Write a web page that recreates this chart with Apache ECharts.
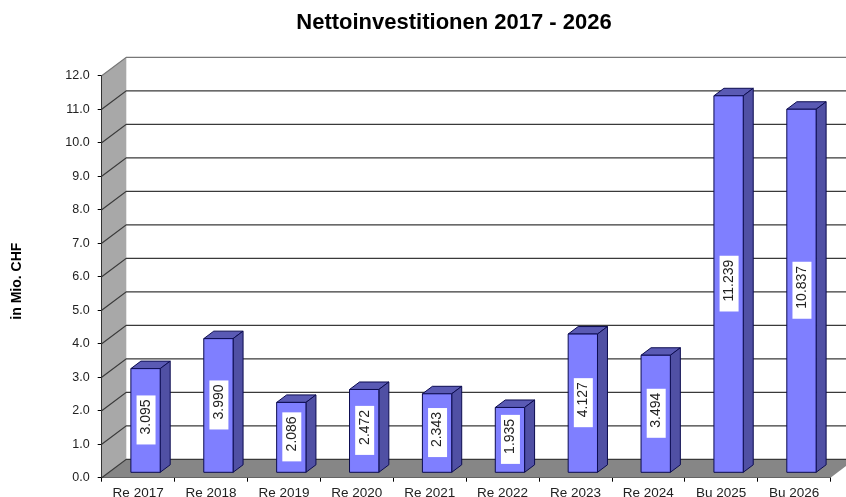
<!DOCTYPE html>
<html><head><meta charset="utf-8">
<script src="https://cdn.jsdelivr.net/npm/echarts@6/dist/echarts.min.js"></script>
<style>html,body{margin:0;padding:0;background:#fff}#c{width:846px;height:497px}</style>
</head><body><div id="c"></div>
<script>
const categories = ['Re 2017','Re 2018','Re 2019','Re 2020','Re 2021','Re 2022','Re 2023','Re 2024','Bu 2025','Bu 2026'];
const values = [3.095,3.990,2.086,2.472,2.343,1.935,4.127,3.494,11.239,10.837];
const labels = ['3.095','3.990','2.086','2.472','2.343','1.935','4.127','3.494','11.239','10.837'];
const ticks = [0,1,2,3,4,5,6,7,8,9,10,11,12];

const DX = 24.6, DY = -18.4;      // wall depth
const BAR_X = 7.4, BAR_Y = -5.4;  // bar front offset from the axis plane
const BDX = 10, BDY = -7.5;       // bar depth
const BAR_W = 29.3;
const FONT = '"Liberation Sans", Arial, sans-serif';

const chart = echarts.init(document.getElementById('c'));

function renderWalls(params, api) {
  const g = params.coordSys;
  const y = api.coord([0, api.value(1)])[1];
  const x0 = g.x, x1 = g.x + g.width;
  const kids = [];
  if (params.dataIndex === 0) {
    const top = g.y, bot = g.y + g.height;
    kids.push({type:'polygon', shape:{points:[[x0,top],[x0+DX,top+DY],[x0+DX,bot+DY],[x0,bot]]},
      style:{fill:'#a8a8a8', stroke:'none'}});
    kids.push({type:'polygon', shape:{points:[[x0,bot],[x0+DX,bot+DY],[x1+DX,bot+DY],[x1,bot]]},
      style:{fill:'#868686', stroke:'none'}});
  }
  const col = '#3a3a3a';
  kids.push({type:'polyline', shape:{points:[[x0,y],[x0+DX,y+DY],[x1+DX,y+DY]]},
    style:{fill:'none', stroke: api.value(1) === 12 ? '#777' : col, lineWidth:1.2}});
  return {type:'group', children:kids};
}

function renderBars(params, api) {
  const c = api.coord([api.value(0), api.value(1)]);
  const b = api.coord([api.value(0), 0]);
  const l = c[0] + BAR_X - BAR_W/2, r = l + BAR_W;
  const t = c[1] + BAR_Y, bo = b[1] + BAR_Y;
  const edge = {stroke:'#0c0c50', lineWidth:1, lineJoin:'round'};
  return {type:'group', children:[
    {type:'polygon', shape:{points:[[l,t],[l+BDX,t+BDY],[r+BDX,t+BDY],[r,t]]}, style:Object.assign({fill:'#5a5ab4'},edge)},
    {type:'polygon', shape:{points:[[r,t],[r+BDX,t+BDY],[r+BDX,bo+BDY],[r,bo]]}, style:Object.assign({fill:'#5050a4'},edge)},
    {type:'rect', shape:{x:l,y:t,width:BAR_W,height:bo-t}, style:Object.assign({fill:'#7f7fff'},edge)},
    {type:'text', x:(l+r)/2 + 0.5, y:(t+bo)/2 - 0.5, rotation:Math.PI/2,
      style:{text:labels[params.dataIndex], x:0, y:0, align:'center', verticalAlign:'middle',
        font:'14px '+FONT, fill:'#222', backgroundColor:'#fff', padding:[2,4,3,10]}}
  ]};
}

chart.setOption({
  animation:false,
  backgroundColor:'#fff',
  title:{text:'Nettoinvestitionen 2017 - 2026', left:449, top:7, textAlign:'center',
    textStyle:{fontFamily:FONT, fontSize:22, fontWeight:'bold', color:'#000'}},
  grid:{left:101.7, right:15.5, top:75.7, bottom:19.3, containLabel:false, outerBoundsMode:'none'},
  xAxis:{type:'category', data:categories, boundaryGap:true,
    axisLine:{show:true, lineStyle:{color:'#000', width:1}},
    axisTick:{show:true, alignWithLabel:false, length:4, lineStyle:{color:'#000'}},
    axisLabel:{fontFamily:FONT, fontSize:13.5, color:'#222', margin:9, interval:0}},
  yAxis:{type:'value', min:0, max:12, interval:1, name:'in Mio. CHF', nameLocation:'middle', nameGap:78,
    nameRotate:90,
    nameTextStyle:{fontFamily:FONT, fontSize:14, fontWeight:'bold', color:'#000', padding:[0,9,0,0]},
    axisLine:{show:true, lineStyle:{color:'#000', width:1}},
    axisTick:{show:true, length:4, lineStyle:{color:'#000'}},
    axisLabel:{fontFamily:FONT, fontSize:12.5, color:'#222', margin:12, padding:[2,0,0,0], formatter:v=>v.toFixed(1)},
    splitLine:{show:false}},
  series:[
    {type:'custom', z:1, silent:true, clip:false, renderItem:renderWalls, data:ticks.map(t=>[0,t])},
    {type:'custom', z:3, silent:true, clip:false, renderItem:renderBars, data:values.map((v,i)=>[i,v])}
  ]
});
</script></body></html>
